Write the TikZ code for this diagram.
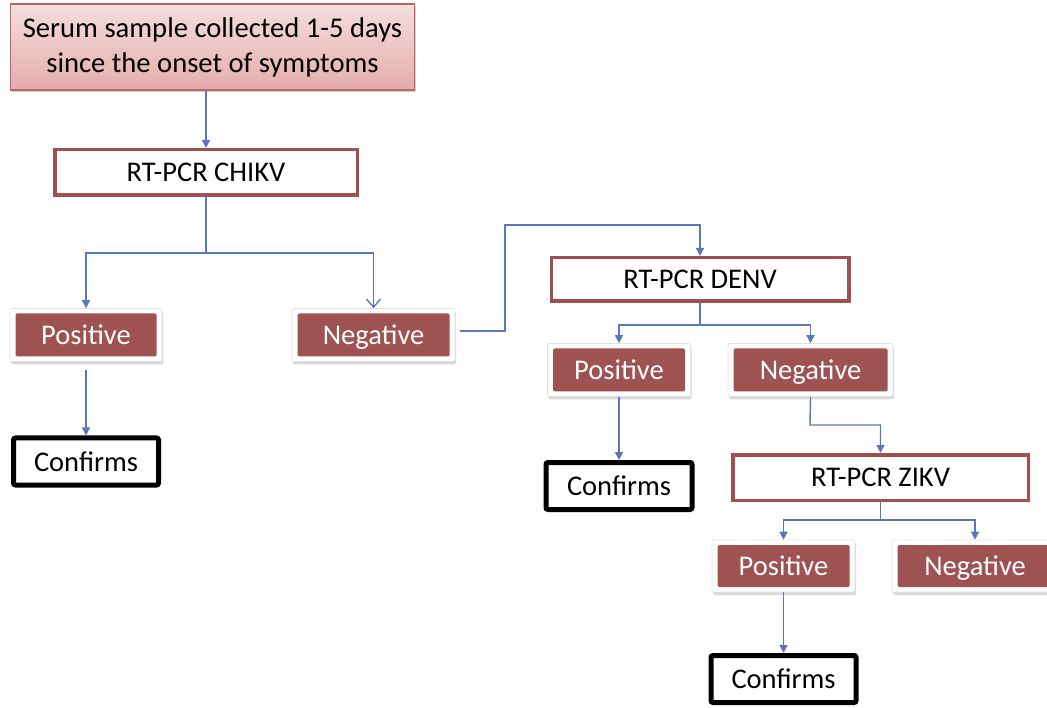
\documentclass[tikz,border=0pt]{standalone}
\usepackage{fontspec}
\setmainfont{Carlito}
\usetikzlibrary{arrows.meta,shadows}
\definecolor{redc}{RGB}{158,82,82}
\definecolor{bordc}{RGB}{160,80,80}
\definecolor{pinkt}{RGB}{244,222,222}
\definecolor{pinkb}{RGB}{229,172,172}
\definecolor{pinkd}{RGB}{190,100,98}
\definecolor{linec}{RGB}{92,118,190}
\begin{document}
\begin{tikzpicture}[x=1pt,y=-1pt,
  every node/.style={font=\fontsize{28.5}{34}\selectfont},
  topbox/.style={rectangle, draw=pinkd, line width=1.3pt, top color=pinkt, bottom color=pinkb,
     drop shadow={shadow xshift=1.5pt, shadow yshift=-2.5pt, opacity=0.35},
     inner sep=0, align=center, font=\fontsize{28.6}{35}\selectfont},
  testbox/.style={rectangle, draw=bordc, line width=3.5pt, fill=white, inner sep=0,
     minimum height=45.5pt},
  resbox/.style={rectangle, draw=black!12, line width=0.6pt, fill=white, rounded corners=1.5pt,
     inner sep=0, minimum height=53pt, text=white, text height=22pt, text depth=3pt,
     drop shadow={shadow xshift=1pt, shadow yshift=-3pt, opacity=0.3},
     path picture={\fill[redc] ([xshift=5.5pt,yshift=-5pt]path picture bounding box.north west)
        rectangle ([xshift=-5.5pt,yshift=5pt]path picture bounding box.south east);}},
  confbox/.style={rectangle, draw=black, line width=5pt, fill=white, rounded corners=2pt,
     inner sep=0, minimum height=47pt, minimum width=145pt,
     drop shadow={shadow xshift=1pt, shadow yshift=-2pt, opacity=0.25}},
  conn/.style={draw=linec, line width=1.4pt, -{Triangle[length=8pt,width=8pt]}},
  connopen/.style={draw=linec, line width=1.4pt, -{Straight Barb[length=8pt,width=14pt]}},
  seg/.style={draw=linec, line width=1.4pt}
]
\useasboundingbox (0,0) rectangle (1047,708);
\clip (0,0) rectangle (1047,708);

\node[topbox, minimum width=404pt, minimum height=86pt] (serum) at (212.5,47)
  {Serum sample collected 1-5 days\\since the onset of symptoms};

\node[testbox, minimum width=302.5pt] (chikv) at (206,172.5) {RT-PCR CHIKV};
\node[resbox, minimum width=152pt] (pos1) at (86,335) {Positive};
\node[resbox, minimum width=163pt] (neg1) at (373.5,335) {Negative};
\node[confbox] (conf1) at (86,461.5) {Confirms};

\node[testbox, minimum width=297.5pt, minimum height=43.5pt] (denv) at (700,279.5) {RT-PCR DENV};
\node[resbox, minimum width=143pt] (pos2) at (619,370) {Positive};
\node[resbox, minimum width=165pt] (neg2) at (810.5,370) {Negative};
\node[confbox, minimum width=146pt] (conf2) at (619,486) {Confirms};

\node[testbox, minimum width=295.5pt] (zikv) at (880.5,477.5) {RT-PCR ZIKV};
\node[resbox, minimum width=143pt, minimum height=52pt] (pos3) at (783.5,566) {Positive};
\node[resbox, minimum width=166pt, minimum height=52pt] (neg3) at (975,566) {Negative};
\node[confbox] (conf3) at (783.5,679) {Confirms};

\coordinate (b1) at (206,253);
\coordinate (j1) at (505,225);
\coordinate (b2) at (700,325);
\coordinate (j2) at (810,425);
\coordinate (b3) at (880.5,520);

\draw[conn] (serum.south -| chikv.north) -- (chikv.north);
\draw[seg] (chikv.south) -- (b1);
\draw[conn] (b1) -| (pos1.north);
\draw[connopen] (b1) -| (neg1.north);
\draw[conn, shorten <=8pt] (pos1.south) -- (conf1.north);
\draw[conn, shorten <=5pt] ([yshift=4pt]neg1.east) -| (j1) -| (denv.north);

\draw[seg] (denv.south) -- (b2);
\draw[conn] (b2) -| (pos2.north);
\draw[conn] (b2) -| (neg2.north);
\draw[conn] (pos2.south) -- (conf2.north);
\draw[conn] (neg2.south) -- (j2) -| (zikv.north);

\draw[seg] (zikv.south) -- (b3);
\draw[conn] (b3) -| (pos3.north);
\draw[conn] (b3) -| (neg3.north);
\draw[conn] (pos3.south) -- (conf3.north);
\end{tikzpicture}
\end{document}
